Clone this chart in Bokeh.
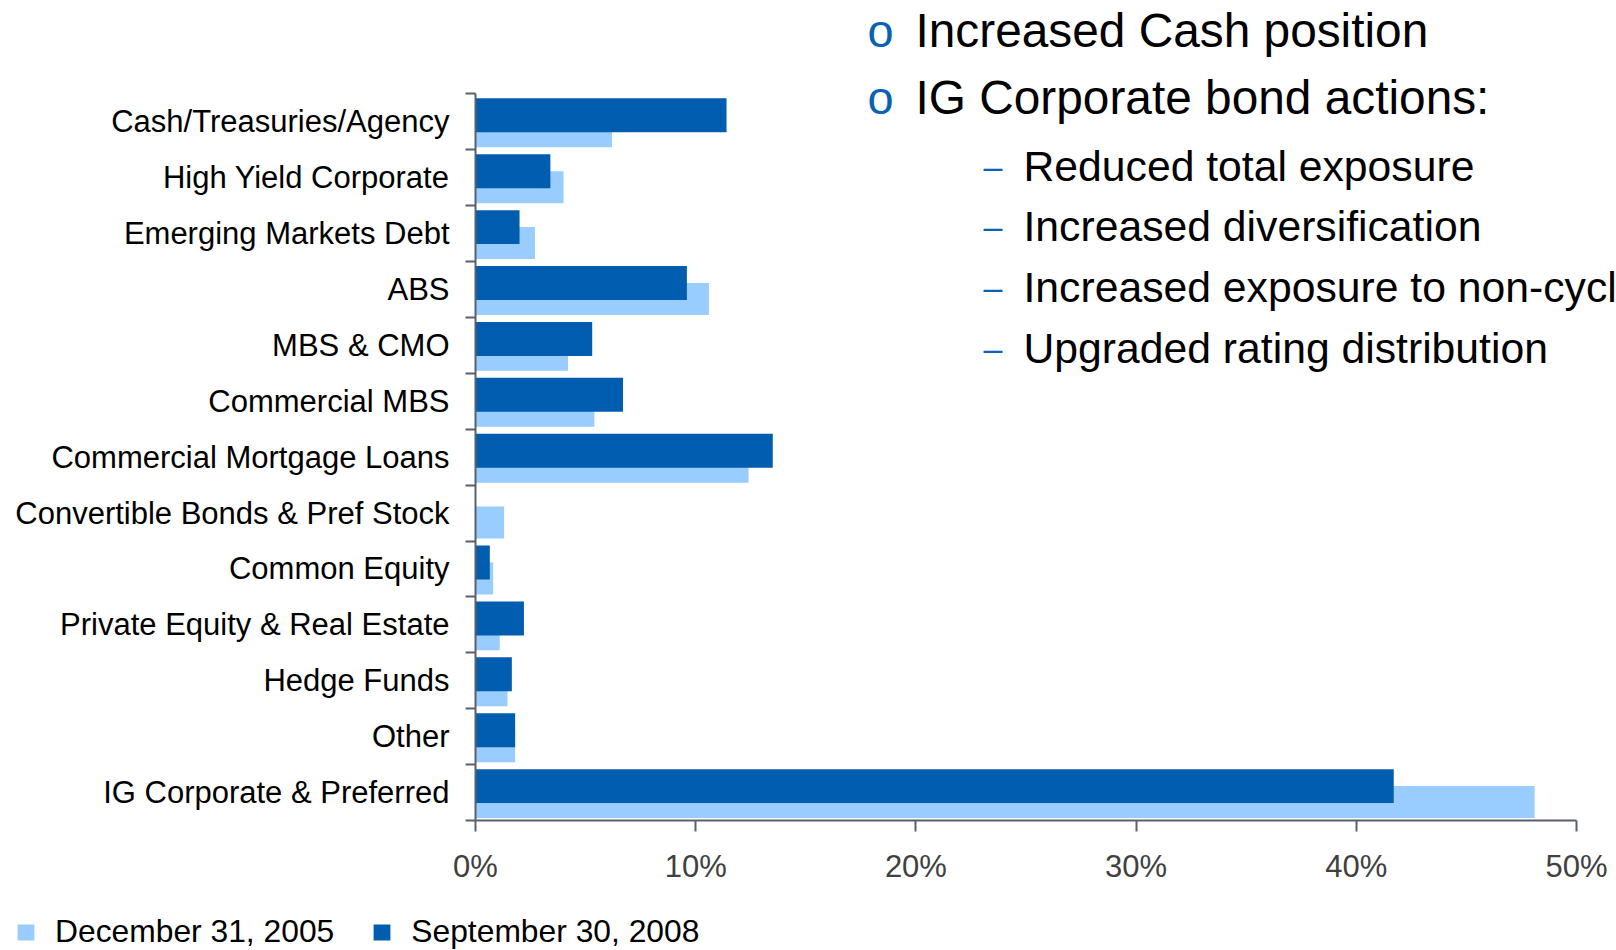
from bokeh.plotting import figure
from bokeh.layouts import column
from bokeh.models import (Range1d, FixedTicker, PrintfTickFormatter, Label, Legend, LegendItem,
                          ColumnDataSource)
from bokeh.transform import dodge
from bokeh.embed import file_html
from bokeh.resources import INLINE

# ---------------- data ----------------
categories = [
    "Cash/Treasuries/Agency",
    "High Yield Corporate",
    "Emerging Markets Debt",
    "ABS",
    "MBS & CMO",
    "Commercial MBS",
    "Commercial Mortgage Loans",
    "Convertible Bonds & Pref Stock",
    "Common Equity",
    "Private Equity & Real Estate",
    "Hedge Funds",
    "Other",
    "IG Corporate & Preferred",
]
dec_2005 = [6.2, 4.0, 2.7, 10.6, 4.2, 5.4, 12.4, 1.3, 0.8, 1.1, 1.45, 1.8, 48.1]
sep_2008 = [11.4, 3.4, 2.0, 9.6, 5.3, 6.7, 13.5, 0.0, 0.65, 2.2, 1.65, 1.8, 41.7]
series_names = ["December 31, 2005", "September 30, 2008"]
x_ticks = [0, 10, 20, 30, 40, 50]
bullets_main = ["Increased Cash position", "IG Corporate bond actions:"]
bullets_sub = ["Reduced total exposure", "Increased diversification",
               "Increased exposure to non-cycl", "Upgraded rating distribution"]

# ---------------- style / layout ----------------
FONT = "Liberation Sans"
LIGHT = "#99CCFF"
DARK = "#005DAF"
AXIS = "#58606E"
BULLET = "#0A62B4"

W = 1616
H_MAIN, H_LEG = 905, 45
AX_LEFT, AX_RIGHT = 475, 1576      # pixel positions of 0% and 50%
AX_TOP, AX_BOTTOM = 93.3, 820      # pixel positions of the category block
n = len(categories)
x_max = x_ticks[-1]
px_x = (AX_RIGHT - AX_LEFT) / x_max
px_y = (AX_BOTTOM - AX_TOP) / n

# category slots: first category at the top
slot = [n - i - 0.5 for i in range(n)]

p = figure(width=W, height=H_MAIN, output_backend="svg", toolbar_location=None,
           x_range=Range1d(0, x_max + (W - AX_RIGHT) / px_x),
           y_range=Range1d(0, n + AX_TOP / px_y),
           min_border_left=AX_LEFT, min_border_right=0, min_border_top=0,
           min_border_bottom=H_MAIN - AX_BOTTOM)
p.outline_line_color = None
p.xgrid.visible = False
p.ygrid.visible = False
p.background_fill_color = "white"
p.border_fill_color = "white"

ya = p.yaxis[0]
ya.bounds = (0, n)
ya.ticker = FixedTicker(ticks=slot, minor_ticks=list(range(n + 1)))
ya.major_label_overrides = {s: c for s, c in zip(slot, categories)}
ya.axis_line_color = AXIS
ya.axis_line_width = 2
ya.major_tick_line_color = None
ya.major_tick_out = 0
ya.major_tick_in = 0
ya.minor_tick_line_color = AXIS
ya.minor_tick_line_width = 2
ya.minor_tick_out = 10
ya.minor_tick_in = 0
ya.major_label_text_font = FONT
ya.major_label_text_font_size = "31px"
ya.major_label_text_color = "#000000"
ya.major_label_standoff = 16

xa = p.xaxis[0]
xa.bounds = (0, x_max)
xa.ticker = FixedTicker(ticks=x_ticks)
xa.formatter = PrintfTickFormatter(format="%d%%")
xa.axis_line_color = AXIS
xa.axis_line_width = 2
xa.major_tick_line_color = AXIS
xa.major_tick_line_width = 2
xa.major_tick_out = 11
xa.major_tick_in = 0
xa.minor_tick_line_color = None
xa.major_label_text_font = FONT
xa.major_label_text_font_size = "31px"
xa.major_label_text_color = "#404040"
xa.major_label_standoff = 17

source = ColumnDataSource(dict(cat=categories, slot=slot, d05=dec_2005, s08=sep_2008))
p.hbar(y=dodge("slot", -0.17), left=0, right="d05", height=0.572,
       fill_color=LIGHT, line_color=None, source=source)
p.hbar(y=dodge("slot", 0.115), left=0, right="s08", height=0.608,
       fill_color=DARK, line_color=None, source=source)


# ---------------- side text ----------------
def ydat(page_y):
    return n + (AX_TOP - page_y) / px_y


def xdat(page_x):
    return (page_x - AX_LEFT) / px_x


main_y = [29.5, 96.5]
for t, yy in zip(bullets_main, main_y):
    p.add_layout(Label(x=xdat(867), y=ydat(yy), text="o",
                       text_font=FONT, text_font_size="47px", text_color=BULLET,
                       text_baseline="middle", text_align="left"))
    p.add_layout(Label(x=xdat(915), y=ydat(yy), text=t,
                       text_font=FONT, text_font_size="47.8px", text_color="#000000",
                       text_baseline="middle", text_align="left"))

sub_y = [165, 225.5, 286, 347.5]
for t, yy in zip(bullets_sub, sub_y):
    p.add_layout(Label(x=xdat(983), y=ydat(yy), text="\u2013",
                       text_font=FONT, text_font_size="34px", text_color=BULLET,
                       text_baseline="middle", text_align="left"))
    p.add_layout(Label(x=xdat(1023), y=ydat(yy), text=t,
                       text_font=FONT, text_font_size="42.7px", text_color="#000000",
                       text_baseline="middle", text_align="left"))

# ---------------- legend strip ----------------
lf = figure(width=W, height=H_LEG, output_backend="svg", toolbar_location=None,
            x_axis_location=None, y_axis_location=None,
            x_range=Range1d(0, 1), y_range=Range1d(0, 1),
            min_border_left=0, min_border_right=0, min_border_top=0, min_border_bottom=0)
if "frame_align" in lf.properties():
    lf.frame_align = False
    p.frame_align = False
lf.outline_line_color = None
lf.xgrid.visible = False
lf.ygrid.visible = False
# zero-width swatch carriers, so that the legend can draw its colour keys
key_src = ColumnDataSource(dict(y=[0], right=[0]))
k_light = lf.hbar(y="y", left=0, right="right", height=0.5, fill_color=LIGHT, line_color=None,
                  source=key_src)
k_dark = lf.hbar(y="y", left=0, right="right", height=0.5, fill_color=DARK, line_color=None,
                 source=key_src)
legend = Legend(items=[LegendItem(label=series_names[0], renderers=[k_light]),
                       LegendItem(label=series_names[1], renderers=[k_dark])],
                orientation="horizontal", location=(15, 0),
                glyph_width=21, glyph_height=20, label_standoff=19, spacing=37,
                padding=0, margin=0, border_line_color=None, background_fill_alpha=0,
                label_text_font=FONT, label_text_font_size="31.8px", label_text_color="#000000")
lf.add_layout(legend, "center")

page = column(p, lf, spacing=0)
open("out.html", "w").write(file_html(page, INLINE))
